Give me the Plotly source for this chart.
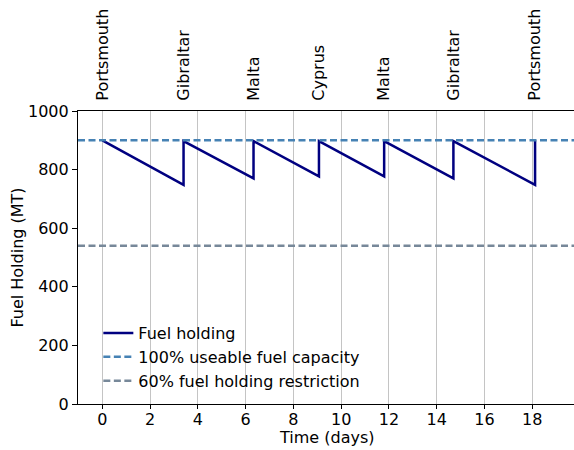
import plotly.graph_objects as go

# Data
times = [0, 3.4, 3.4, 6.33, 6.33, 9.07, 9.07, 11.8, 11.8, 14.7, 14.7, 18.12, 18.12]
fuel = [900, 748, 897, 770, 897, 777, 897, 777, 897, 770, 897, 748, 900]
port_times = [0, 3.4, 6.33, 9.07, 11.8, 14.7, 18.12]
port_names = ["Portsmouth", "Gibraltar", "Malta", "Cyprus", "Malta", "Gibraltar", "Portsmouth"]
capacity = 900
restriction = 540
x_ticks = [0, 2, 4, 6, 8, 10, 12, 14, 16, 18]
y_ticks = [0, 200, 400, 600, 800, 1000]

xr = [-1.02, 19.75]
font = dict(family="DejaVu Sans", size=16, color="black")

fig = go.Figure()
fig.add_trace(go.Scatter(x=times, y=fuel, mode="lines", name="Fuel holding",
                         line=dict(color="#000080", width=2.5)))
fig.add_trace(go.Scatter(x=xr, y=[capacity, capacity], mode="lines",
                         name="100% useable fuel capacity",
                         line=dict(color="#4682b4", width=2.5, dash="7px,3.5px")))
fig.add_trace(go.Scatter(x=xr, y=[restriction, restriction], mode="lines",
                         name="60% fuel holding restriction",
                         line=dict(color="#778899", width=2.5, dash="7px,3.5px")))
# dummy trace for top axis
fig.add_trace(go.Scatter(x=port_times, y=[None]*len(port_times), xaxis="x2",
                         showlegend=False, hoverinfo="skip"))

fig.update_layout(
    width=574, height=450,
    margin=dict(l=78, r=0, t=111, b=46),
    paper_bgcolor="white", plot_bgcolor="white",
    font=font,
    showlegend=True,
    legend=dict(x=0.041, y=0.02, xanchor="left", yanchor="bottom",
                bgcolor="rgba(0,0,0,0)", font=dict(family="DejaVu Sans", size=16),
                tracegroupgap=0),
    xaxis=dict(range=xr, tickvals=x_ticks, showgrid=True, gridcolor="#c4c4c4",
               gridwidth=1, showline=True, linecolor="black", linewidth=1.2,
               ticks="outside", ticklen=4, tickcolor="black", zeroline=False,
               ticklabelstandoff=-3,
               automargin=False, tickfont=font),
    xaxis2=dict(range=xr, overlaying="x", side="top", tickvals=port_times,
                ticktext=port_names, tickangle=-90, showgrid=False,
                showline=True, linecolor="black", linewidth=1.2,
                ticks="outside", ticklen=6, tickcolor="rgba(0,0,0,0)",
                zeroline=False, automargin=False, tickfont=font),
    yaxis=dict(range=[0, 1000], tickvals=y_ticks, showgrid=False,
               showline=True, linecolor="black", linewidth=1.2,
               ticks="outside", ticklen=5, tickcolor="black", zeroline=False,
               automargin=False,
               title=dict(text="Fuel Holding (MT)", standoff=0, font=font), tickfont=font),
    annotations=[dict(text="Time (days)", xref="paper", yref="paper",
                      x=(9.4 - xr[0]) / (xr[1] - xr[0]), y=-0.116,
                      xanchor="center", yanchor="middle", showarrow=False, font=font)],
)

fig.write_html("out.html", config={"displayModeBar": False},
               post_script="document.body.style.margin='0';document.body.style.overflow='hidden';")
